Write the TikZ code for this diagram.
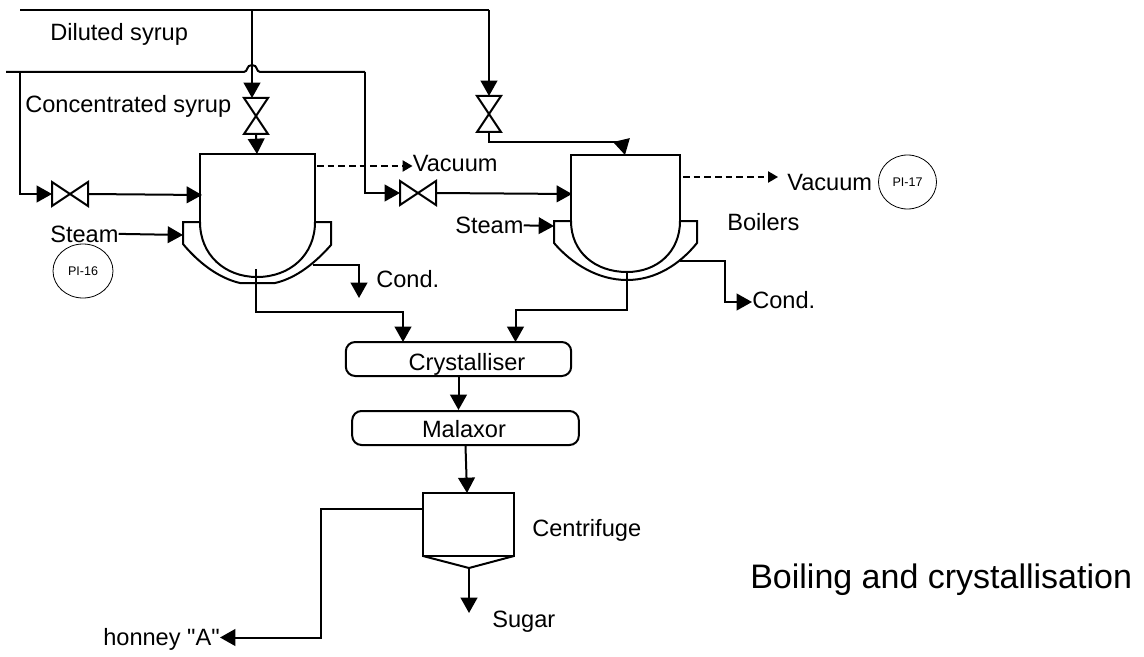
\documentclass[tikz,border=0pt]{standalone}
\usepackage{fontspec}
\setmainfont{Liberation Sans}[Ligatures=TeXOff]
\usetikzlibrary{arrows.meta,shapes.geometric}
\tikzset{
  pipe/.style={line width=1.5pt,-{Triangle[length=11.5pt,width=12.5pt]}},
  plainpipe/.style={line width=1.5pt},
  vacline/.style={line width=1pt,dash pattern=on 5pt off 3pt,-{Triangle[length=7.5pt,width=8.5pt]}},
  vessel/.style={line width=1.5pt},
  txt/.style={font=\fontsize{17.7}{20}\selectfont,inner sep=0pt,anchor=base west},
  gauge/.style={draw,ellipse,line width=0.6pt,font=\fontsize{9.4}{11}\selectfont,inner sep=0pt},
  tank/.style={draw,line width=1.5pt,rounded corners=7pt,inner sep=0pt},
  valve/.pic={
    \draw[line width=1.5pt] (-18,-12) -- (18,12) -- (18,-12) -- (-18,12) -- cycle;
    \coordinate (-in) at (-18,0);
    \coordinate (-out) at (18,0);
  }
}
\begin{document}
\begin{tikzpicture}[x=0.75pt,y=-0.75pt]
\useasboundingbox (0,0) rectangle (1144,656);

\node[txt] (diluted) at (50,40.7) {Diluted syrup};
\node[txt] (concentrated) at (25,113) {Concentrated syrup};
\node[txt] (steamone) at (50,242) {Steam};
\node[txt] (steamtwo) at (455,233.5) {Steam};
\node[txt] (vacone) at (412.5,171.7) {Vacuum};
\node[txt] (vactwo) at (787,190) {Vacuum};
\node[txt] (condone) at (376,287) {Cond.};
\node[txt] (condtwo) at (752,308) {Cond.};
\node[txt] (boilers) at (727,230) {Boilers};
\node[txt] (centrifuge) at (532,536.7) {Centrifuge};
\node[txt] (sugar) at (492,627) {Sugar};
\node[txt,anchor=base east] (honey) at (220,645) {honney "A"};
\node[anchor=base west,inner sep=0pt,font=\fontsize{25.5}{30}\selectfont] (title) at (750,588) {Boiling and crystallisation};

\node[gauge,minimum width=45pt,minimum height=40.5pt] (pione) at (83,271) {PI-16};
\node[gauge,minimum width=43.5pt,minimum height=40.5pt] (pitwo) at (907.5,182) {PI-17};

\node[tank,minimum width=169pt,minimum height=25.5pt] (crystalliser) at (458.5,359) {};
\node[txt,anchor=base] (crystalliserlabel) at (467,370) {Crystalliser};
\node[tank,minimum width=170pt,minimum height=25.5pt] (malaxor) at (465.5,428) {};
\node[txt,anchor=base] (malaxorlabel) at (464,437) {Malaxor};

\coordinate (diluteda) at (20,10);
\coordinate (dilutedb) at (252,10);
\coordinate (dilutedc) at (489,10);
\coordinate (conca) at (6,72);
\coordinate (concb) at (20,72);
\coordinate (concc) at (365,72);

\pic (valvea) at (70,194) {valve};
\pic[rotate=-90] (valveb) at (256,116) {valve};
\pic (valvec) at (418,193) {valve};
\pic[rotate=-90] (valved) at (489,114) {valve};

\draw[vessel] (200,222) -- (200,154) -- (315,154) -- (315,222);
\draw[vessel] (200,222) .. controls (200,255) and (225,277) .. (257,277) .. controls (290,277) and (315,255) .. (315,222);
\draw[vessel] (200,222) -- (183,222) -- (183,244) .. controls (198,262) and (218,278) .. (240,283) -- (275,283) .. controls (297,278) and (316,262) .. (331,245) -- (331,222) -- (315,222);
\coordinate (panonetop) at (257,154);
\coordinate (panoneleft) at (202,195);
\coordinate (panoneright) at (317,166);
\coordinate (panonejacket) at (183,235);
\coordinate (panonecond) at (313,265);
\coordinate (panonebottom) at (256,269);

\draw[vessel] (571,221) -- (571,155) -- (680,155) -- (680,221);
\draw[vessel] (571,221) .. controls (571,252) and (595,272) .. (627,272) .. controls (657,272) and (680,252) .. (680,221);
\draw[vessel] (571,221) -- (554,221) -- (554,243) .. controls (572,264) and (598,280) .. (627,280) .. controls (656,280) and (680,264) .. (697,243) -- (697,221) -- (680,221);
\coordinate (pantwotop) at (625,155);
\coordinate (pantwoleft) at (572,194);
\coordinate (pantworight) at (683,177);
\coordinate (pantwojacket) at (554,226);
\coordinate (pantwocond) at (680,261);
\coordinate (pantwobottom) at (627,272);

\draw[vessel] (423,493) rectangle (514,556);
\draw[vessel] (423,556) -- (469,568) -- (514,556);
\coordinate (centtop) at (467,493);
\coordinate (centleft) at (423,509);
\coordinate (centtip) at (469,568);
\coordinate (honeydrop) at (321,637.5);

\draw[plainpipe] (diluteda) -- (dilutedc);
\draw[pipe] (dilutedb) -- (252,98);
\draw[pipe] (dilutedc) -- (valved-in);
\draw[pipe] (valveb-out) -- (panonetop);
\draw[plainpipe] (valved-out) -- (489,142) -- (621,142);
\draw[pipe] (621.7,141) -- (pantwotop);

\draw[plainpipe] (conca) -- (244,72) .. controls (248,72) and (246,65) .. (252,65) .. controls (258,65) and (256,72) .. (260,72) -- (concc);
\draw[pipe] (concb) -- (20,194) -- (valvea-in);
\draw[pipe] (valvea-out) -- (panoneleft);
\draw[pipe] (concc) -- (365,193) -- (valvec-in);
\draw[pipe] (valvec-out) -- (pantwoleft);

\draw[vacline] (panoneright) -- (vacone.west |- panoneright);
\draw[vacline] (pantworight) -- (778,177);

\draw[pipe] (steamone.east) -- (panonejacket);
\draw[pipe] (steamtwo.east) -- (pantwojacket);

\draw[pipe] (panonecond) -- (359,265) -- (359,298);
\draw[pipe] (pantwocond) -- (725,261) -- (725,302) -- (condtwo.west |- 725,302);

\draw[pipe] (panonebottom) -- (256,312) -- (403,312) -- (403,342);
\draw[pipe] (pantwobottom) -- (627,310) -- (515.5,310) -- (515.5,342);

\draw[pipe] (crystalliser.south) -- (crystalliser.south |- malaxor.north);
\draw[pipe] (malaxor.south) -- (centtop);
\draw[pipe] (centtip) -- (469,613);
\draw[pipe] (centleft) -- (321,509) -- (honeydrop) -- (honey.east |- honeydrop);
\end{tikzpicture}
\end{document}
